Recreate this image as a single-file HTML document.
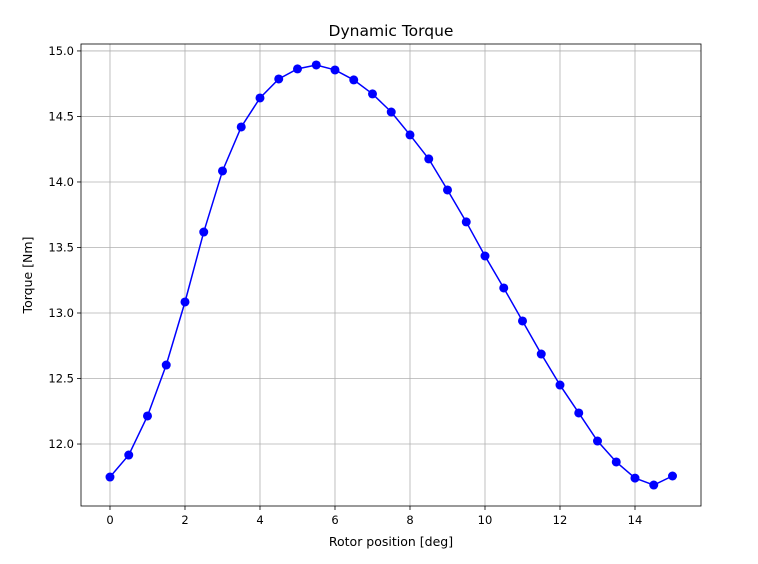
<!DOCTYPE html>
<html><head><meta charset="utf-8"><style>body{margin:0;background:#fff}svg{display:block;font-family:"DejaVu Sans","Liberation Sans",sans-serif}</style></head>
<body>
<svg id="chart" width="758" height="564"></svg>
<script>
const xValues=[0,0.5,1,1.5,2,2.5,3,3.5,4,4.5,5,5.5,6,6.5,7,7.5,8,8.5,9,9.5,10,10.5,11,11.5,12,12.5,13,13.5,14,14.5,15];
const torqueValues=[11.748,11.916,12.214,12.603,13.084,13.618,14.084,14.420,14.641,14.786,14.863,14.893,14.855,14.779,14.672,14.534,14.359,14.176,13.939,13.695,13.435,13.191,12.939,12.687,12.450,12.237,12.023,11.863,11.740,11.687,11.756];
const xTicks=[0,2,4,6,8,10,12,14];
const yTicks=[12.0,12.5,13.0,13.5,14.0,14.5,15.0];
const L=81,R=701,T=44,B=506,xmin=-0.773,xmax=15.76,ymin=11.527,ymax=15.053;
const sx=v=>L+(v-xmin)/(xmax-xmin)*(R-L);
const sy=v=>B-(v-ymin)/(ymax-ymin)*(B-T);
const svg=document.getElementById('chart');const NS='http://www.w3.org/2000/svg';
function mk(t,a,p){const e=document.createElementNS(NS,t);for(const k in a)e.setAttribute(k,a[k]);(p||svg).appendChild(e);return e;}
const grid=mk('g',{});


xTicks.forEach(v=>{const x=sx(v);
mk('line',{x1:x,x2:x,y1:T,y2:B,stroke:'#b0b0b0','stroke-width':0.8},grid);
mk('line',{x1:x,x2:x,y1:B,y2:B+4,stroke:'#000','stroke-width':0.8});
const t=mk('text',{x:x,y:B+18,'text-anchor':'middle','font-size':11.5});t.textContent=v;

});
yTicks.forEach(v=>{const y=sy(v);
mk('line',{x1:L,x2:R,y1:y,y2:y,stroke:'#b0b0b0','stroke-width':0.8},grid);
mk('line',{x1:L-4,x2:L,y1:y,y2:y,stroke:'#000','stroke-width':0.8});
const t=mk('text',{x:L-7,y:y+4,'text-anchor':'end','font-size':11.5});t.textContent=v.toFixed(1);

});
const pts=xValues.map((x,i)=>sx(x)+','+sy(torqueValues[i])).join(' ');
const line=mk('polyline',{points:pts,fill:'none',stroke:'#0000ff','stroke-width':1.5});


xValues.forEach((x,i)=>{const c=mk('circle',{cx:sx(x),cy:sy(torqueValues[i]),r:4.5,fill:'#0000ff'});

});
const frame=mk('rect',{x:L,y:T,width:R-L,height:B-T,fill:'none',stroke:'#000','stroke-width':0.8});


const title=mk('text',{x:(L+R)/2,y:36,'text-anchor':'middle','font-size':15.5});title.textContent='Dynamic Torque';


const xl=mk('text',{x:(L+R)/2,y:546,'text-anchor':'middle','font-size':12.5});xl.textContent='Rotor position [deg]';


const yl=mk('text',{x:32,y:(T+B)/2,'text-anchor':'middle','font-size':12.5,transform:'rotate(-90 32 '+((T+B)/2)+')'});yl.textContent='Torque [Nm]';


</script>
</body></html>
